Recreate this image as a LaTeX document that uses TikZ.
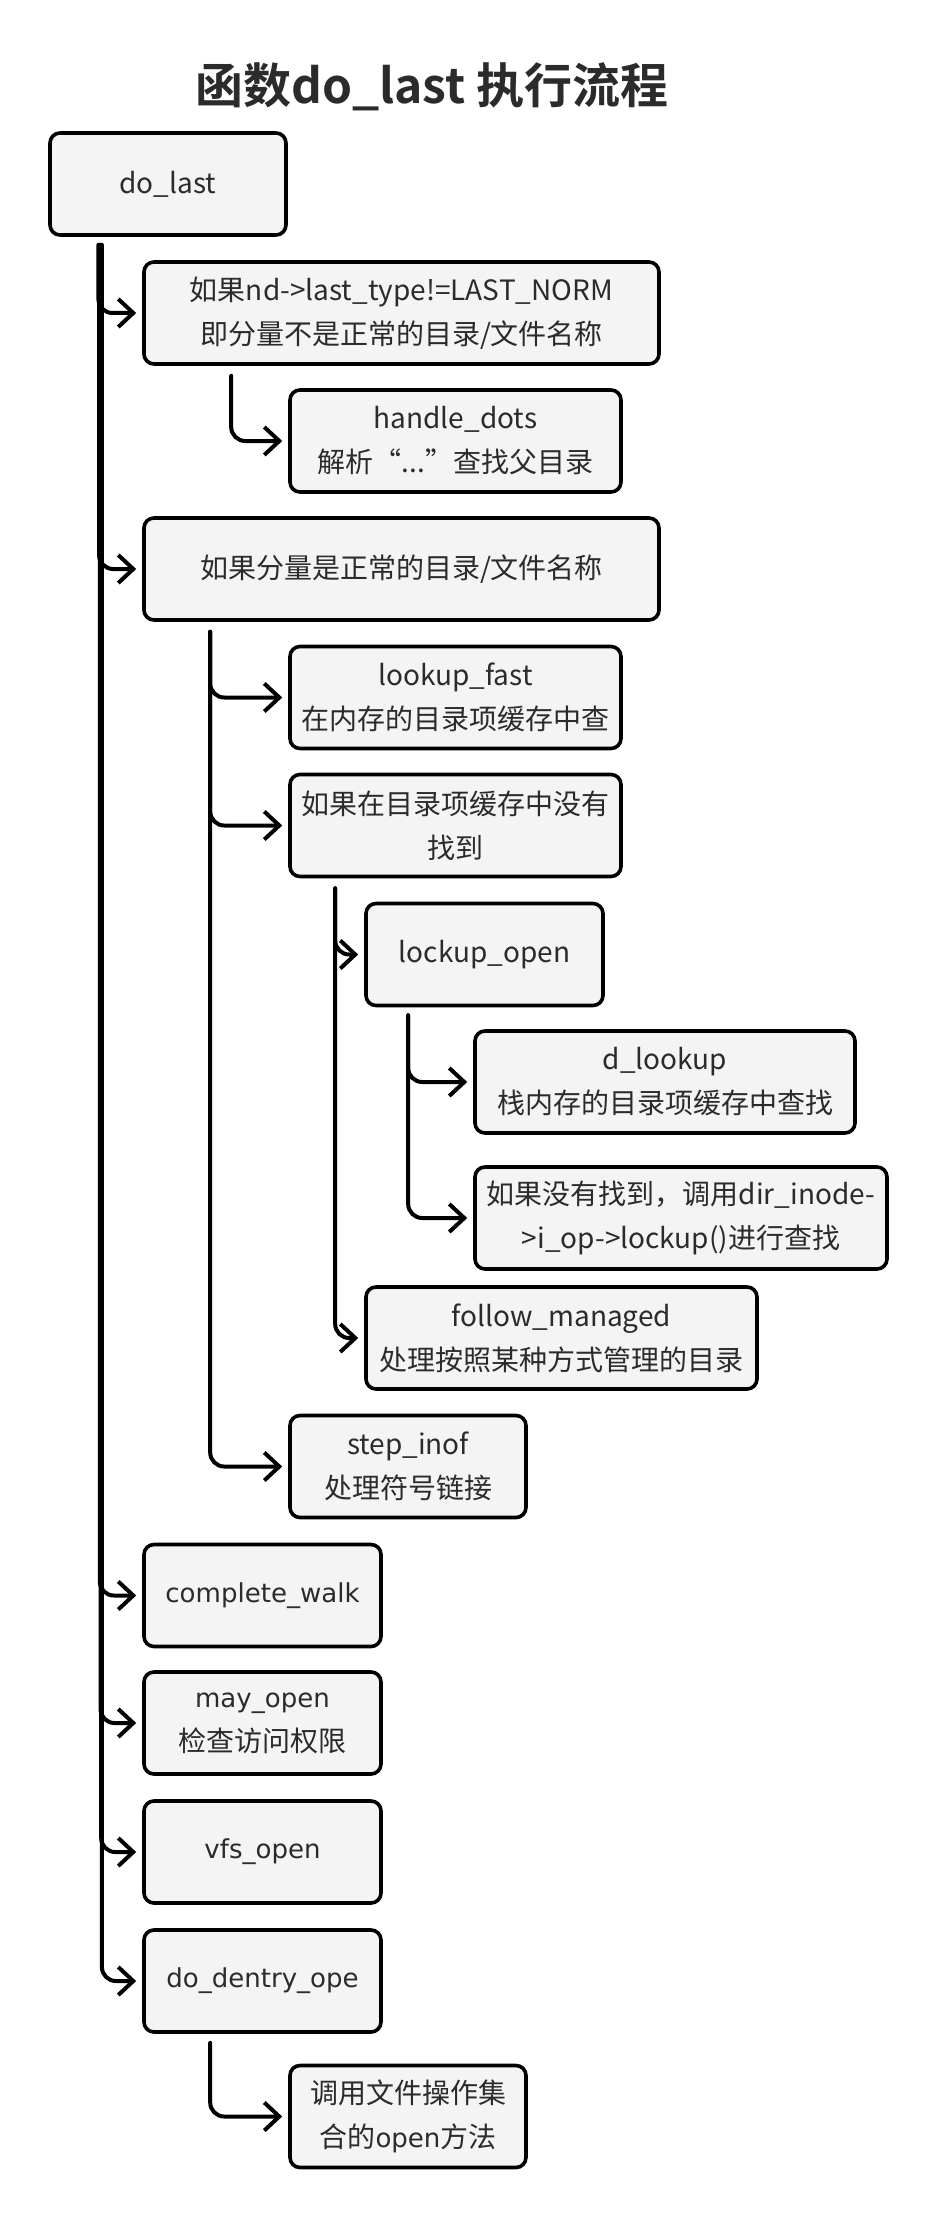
\documentclass[tikz,border=0pt]{standalone}
\usepackage{fontspec}
\setmainfont{Noto Sans CJK SC}[BoldFont={Noto Sans CJK SC Bold}]
\newfontfamily\wide{DejaVu Sans}[Scale=0.93]
\usetikzlibrary{arrows.meta, calc}
\definecolor{boxfill}{HTML}{F4F4F4}
\definecolor{ink}{HTML}{2B2B2B}
\tikzset{
	box/.style={draw=black, fill=boxfill, line width=1.8pt, rounded corners=5pt, align=center,
		minimum height=51pt, inner sep=0pt, text=ink, font=\fontsize{14}{22}\selectfont},
	link/.style={line width=2pt, line cap=round, rounded corners=7pt,
		-{Straight Barb[length=7.5pt,width=14pt]}, shorten >=3pt},
}
\begin{document}
\begin{tikzpicture}[x=0.5pt,y=-0.5pt]
			\useasboundingbox (0,0) rectangle (938,2220);
			\node[text=ink, font=\fontsize{24}{28}\selectfont\bfseries] (title) at (432,87) {函数do\_last 执行流程};
			\node[box, minimum width=118pt] (dolast) at (168,184) {do\_last};
			\node[box, minimum width=257.5pt] (nd) at (401.5,313) {如果nd->last\_type!=LAST\_NORM\\即分量不是正常的目录/文件名称};
			\node[box, minimum width=165.5pt] (dots) at (455.5,441) {handle\_dots\\解析“...”查找父目录};
			\node[box, minimum width=257.5pt] (normal) at (401.5,569) {如果分量是正常的目录/文件名称};
			\node[box, minimum width=165.5pt] (fast) at (455.5,697.5) {lookup\_fast\\在内存的目录项缓存中查};
			\node[box, minimum width=165.5pt] (notfound) at (455.5,825.5) {如果在目录项缓存中没有\\找到};
			\node[box, minimum width=118.5pt] (lockup) at (484.5,954.5) {lockup\_open};
			\node[box, minimum width=190pt] (dlookup) at (665,1082) {d\_lookup\\栈内存的目录项缓存中查找};
			\node[box, minimum width=206pt] (dirinode) at (681,1218) {如果没有找到，调用dir\_inode-\\>i\_op->lockup()进行查找};
			\node[box, minimum width=195.5pt] (follow) at (561.5,1338) {follow\_managed\\处理按照某种方式管理的目录};
			\node[box, minimum width=118pt] (stepinof) at (408,1466.5) {step\_inof\\处理符号链接};
			\node[box, minimum width=118.5pt] (walk) at (262.5,1595.5) {{\wide complete\_walk}};
			\node[box, minimum width=118.5pt] (mayopen) at (262.5,1723) {{\wide may\_open}\\检查访问权限};
			\node[box, minimum width=118.5pt] (vfsopen) at (262.5,1852) {{\wide vfs\_open}};
			\node[box, minimum width=118.5pt] (dentry) at (262.5,1981) {{\wide do\_dentry\_ope}};
			\node[box, minimum width=118pt] (openm) at (408,2116.5) {调用文件操作集\\合的{\wide open}方法};
			\draw[link] ($(dolast.south west)+(50.2,8)$) |- (nd.west);
			\draw[link] ($(dolast.south west)+(50.9,8)$) |- (normal.west);
			\draw[link] ($(dolast.south west)+(51.6,8)$) |- (walk.west);
			\draw[link] ($(dolast.south west)+(52.3,8)$) |- (mayopen.west);
			\draw[link] ($(dolast.south west)+(53,8)$) |- (vfsopen.west);
			\draw[link] ($(dolast.south west)+(53.7,8)$) |- (dentry.west);
			\draw[link] ($(nd.south west)+(89,10)$) |- (dots.west);
			\draw[link] ($(normal.south west)+(68,10)$) |- (fast.west);
			\draw[link] ($(normal.south west)+(68,10)$) |- (notfound.west);
			\draw[link] ($(normal.south west)+(68,10)$) |- (stepinof.west);
			\draw[link] ($(notfound.south west)+(47,10)$) |- (lockup.west);
			\draw[link] ($(notfound.south west)+(47,10)$) |- (follow.west);
			\draw[link] ($(lockup.south west)+(44,8)$) |- (dlookup.west);
			\draw[link] ($(lockup.south west)+(44,8)$) |- (dirinode.west);
			\draw[link] ($(dentry.south west)+(68,9)$) |- (openm.west);
		\end{tikzpicture}
\end{document}
